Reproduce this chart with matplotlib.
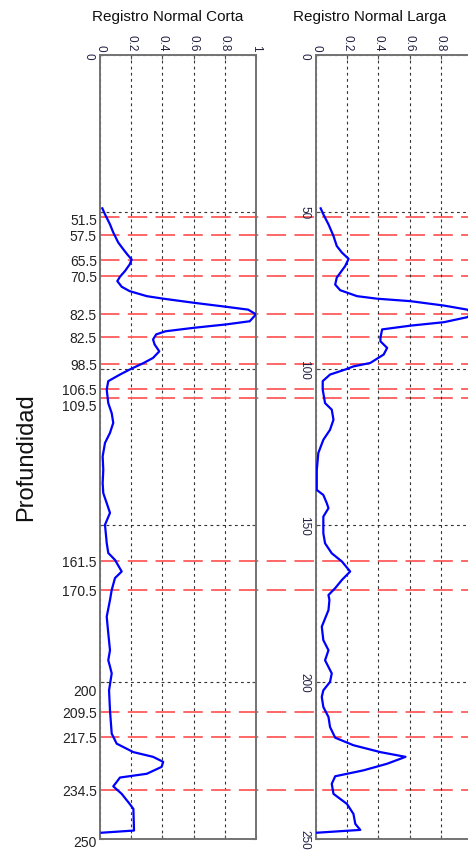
import numpy as np
import matplotlib as mpl
mpl.use('Agg')
import matplotlib.pyplot as plt
from matplotlib.transforms import offset_copy

plt.rcParams['font.family'] = ['Liberation Sans', 'DejaVu Sans']
plt.rcParams['lines.scale_dashes'] = False

# normalised short normal log (depth, value)
depth_corta = [48.9, 50.8, 54.0, 56.6, 59.8, 62.0, 63.6, 65.2, 66.8, 68.9, 70.7, 72.1,
               73.9, 75.3, 76.9, 77.7, 79.0, 80.3, 81.2, 82.7, 84.9, 85.9, 87.0, 88.1,
               89.1, 90.7, 92.3, 94.5, 96.6, 98.2, 100.3, 101.9, 104.0, 106.7, 111.0,
               114.2, 117.3, 120.5, 123.7, 128.0, 132.3, 136.5, 139.7, 142.9, 146.0,
               149.8, 155.6, 158.8, 161.0, 164.7, 166.8, 170.6, 173.8, 179.1, 184.4,
               189.8, 193.0, 195.0, 197.2, 202.6, 209.0, 216.4, 219.6, 222.3, 223.8,
               225.4, 227.0, 229.2, 230.4, 231.8, 233.2, 235.6, 238.8, 240.4, 247.3, 248.0]
val_corta = [0.015, 0.032, 0.064, 0.085, 0.117, 0.15, 0.175, 0.203, 0.19, 0.16, 0.128,
             0.111, 0.139, 0.19, 0.30, 0.405, 0.60, 0.81, 0.95, 1.0, 0.96, 0.81, 0.60,
             0.42, 0.36, 0.34, 0.35, 0.38, 0.34, 0.28, 0.19, 0.128, 0.053, 0.043, 0.053,
             0.075, 0.085, 0.064, 0.032, 0.017, 0.021, 0.017, 0.021, 0.043, 0.064, 0.032,
             0.043, 0.053, 0.096, 0.139, 0.096, 0.075, 0.064, 0.043, 0.053, 0.064, 0.053,
             0.064, 0.075, 0.058, 0.064, 0.075, 0.107, 0.214, 0.34, 0.405, 0.395, 0.30,
             0.128, 0.107, 0.085, 0.139, 0.19, 0.214, 0.218, 0.01]

# normalised long normal log (depth, value)
depth_larga = [48.9, 50.8, 54.0, 57.7, 60.9, 63.0, 65.0, 67.3, 71.0, 73.2, 75.0, 76.9,
               77.7, 78.5, 79.9, 81.2, 82.4, 83.6, 85.2, 86.3, 87.5, 90.2, 91.3, 93.4,
               95.5, 98.2, 99.3, 100.3, 101.9, 104.0, 106.7, 111.0, 113.1, 116.3, 119.5,
               122.7, 126.9, 132.3, 138.7, 140.3, 142.9, 144.5, 147.2, 152.5, 155.7,
               158.9, 161.5, 164.7, 167.4, 170.0, 172.2, 173.8, 177.0, 182.3, 186.6,
               189.8, 193.0, 197.2, 199.9, 202.6, 204.7, 207.9, 211.1, 214.3, 217.7,
               220.1, 222.3, 223.8, 226.0, 228.1, 230.0, 232.4, 235.6, 238.8, 242.0,
               245.2, 247.1, 248.0]
val_larga = [0.03, 0.047, 0.08, 0.112, 0.133, 0.166, 0.209, 0.187, 0.133, 0.123, 0.155,
             0.263, 0.39, 0.606, 0.82, 0.97, 1.0, 0.97, 0.82, 0.606, 0.424, 0.413, 0.413,
             0.456, 0.434, 0.348, 0.24, 0.187, 0.09, 0.043, 0.043, 0.058, 0.101, 0.112,
             0.09, 0.047, 0.015, 0.005, 0.005, 0.047, 0.069, 0.08, 0.047, 0.047, 0.058,
             0.101, 0.166, 0.219, 0.166, 0.123, 0.08, 0.086, 0.08, 0.037, 0.047, 0.08,
             0.058, 0.101, 0.09, 0.047, 0.037, 0.047, 0.08, 0.09, 0.123, 0.24, 0.413,
             0.574, 0.456, 0.305, 0.123, 0.101, 0.112, 0.198, 0.24, 0.252, 0.284, 0.005]

# picked layer boundaries and the depth annotations
boundary_depths = [51.5, 57.5, 65.5, 70.5, 82.5, 90.0, 98.5, 106.5, 109.5,
                   161.5, 170.5, 209.5, 217.5, 234.5]
note_depths = [51.5, 57.5, 65.5, 70.5, 82.5, 90.0, 98.5, 106.5, 109.5,
               161.5, 170.5, 200, 209.5, 217.5, 234.5, 250]
note_labels = ['51.5', '57.5', '65.5', '70.5', '82.5', '82.5', '98.5', '106.5', '109.5',
               '161.5', '170.5', '200', '209.5', '217.5', '234.5', '250']

x_ticks = [0, 0.2, 0.4, 0.6, 0.8, 1.0]
x_tick_labels = ['0', '0.2', '0.4', '0.6', '0.8', '1']
y_ticks = [0, 50, 100, 150, 200, 250]
y_tick_labels = ['0', '50', '100', '150', '200', '250']

W, H = 468, 854
fig = plt.figure(figsize=(W / 100, H / 100), dpi=100)
ax1 = fig.add_axes([100 / W, 14 / H, 156 / W, 784 / H])
ax2 = fig.add_axes([316 / W, 14 / H, 156 / W, 784 / H])
ax2.patch.set_visible(False)

for ax in (ax1, ax2):
    ax.set_xlim(0, 1)
    ax.set_ylim(250, 0)
    ax.set_xticks(x_ticks)
    ax.set_xticklabels(x_tick_labels, rotation=-90, fontsize=8.5, color='#222244')
    ax.set_yticks(y_ticks)
    ax.tick_params(direction='in', length=3, width=0.8, color='0.3',
                   top=True, bottom=True, left=True, right=True,
                   labeltop=True, labelbottom=False)
    ax.tick_params(axis='x', pad=3)
    ax.tick_params(axis='y', pad=4)
    ax.grid(True, color='0.2', lw=0.8, linestyle=(0, (2, 2.4)))
    ax.set_axisbelow(True)
    for sp in ax.spines.values():
        sp.set_color('0.45')
        sp.set_linewidth(1.4)

ax1.set_yticklabels(['0', '', '', '', '', ''], rotation=-90, va='center',
                    fontsize=8.5, color='#222244')
ax2.set_yticklabels(y_tick_labels, rotation=-90, va='center',
                    fontsize=8.5, color='#222244')

# boundary lines run across both tracks
for d in boundary_depths:
    ax1.plot([0, 2.5], [d, d], transform=ax1.get_yaxis_transform(), clip_on=False,
             color='#ff5a5a', lw=1.3, dashes=(14, 6), zorder=1.5)

ax1.plot(val_corta, depth_corta, color='#0000ff', lw=1.6, zorder=3)
ax2.plot(val_larga, depth_larga, color='#0000ff', lw=1.6, zorder=3)

# depth notes left of the first track, nudged down (points) where they crowd
nudge = {0: 2.5, 8: 5.5, 11: 6.5, 15: 2.0}
for i, (d, lab) in enumerate(zip(note_depths, note_labels)):
    tr = offset_copy(ax1.get_yaxis_transform(), fig=fig, x=0, y=-nudge.get(i, 0.7),
                     units='points')
    ax1.text(-0.02, d, lab, transform=tr, ha='right', va='center',
             fontsize=10, color='#222222')

fig.text(167.5 / W, 1 - 17 / H, 'Registro Normal Corta', ha='center', va='center',
         fontsize=11, color='#111111')
fig.text(370 / W, 1 - 17 / H, 'Registro Normal Larga', ha='center', va='center',
         fontsize=11, color='#111111')
fig.text(26 / W, 1 - 457 / H, 'Profundidad', rotation=90, ha='center', va='center',
         fontsize=17, color='#111111')

plt.savefig('out.png', dpi=100)
plt.close()
